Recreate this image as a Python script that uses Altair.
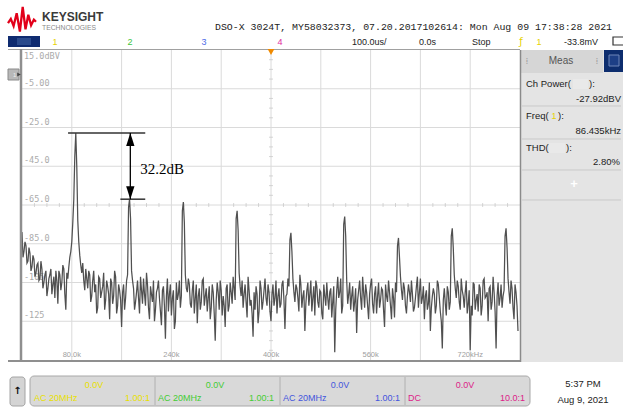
import altair as alt
import pandas as pd

# ---------------- chart data ----------------
BIN_KHZ = 1.6  # spacing of the displayed FFT points (kHz)

# levels (dBV) on the even points; each row starts at a harmonic of 86.435 kHz
trace_even_rows = [
    [-79, -89, -86, -94, -90, -97, -93, -100, -95, -103, -98, -105, -99, -108, -101, -111,
     -102, -99, -116, -101, -105, -98, -119, -103, -92, -84, -62],
    [-27.9, -73, -91, -100, -104, -98, -108, -101, -112, -99, -106, -118, -103, -110, -100,
     -114, -107, -124, -105, -112, -102, -117, -109, -128, -106, -113, -101],
    [-62, -99, -108, -115, -104, -121, -109, -103, -117, -106, -124, -111, -104, -119, -108,
     -113, -127, -107, -134, -103, -111, -122, -109, -125, -114, -104, -112],
    [-63.5, -101, -110, -106, -118, -104, -113, -126, -108, -115, -103, -112, -120, -107, -118,
     -110, -135, -105, -119, -109, -112, -128, -106, -117, -110, -102, -114],
    [-68, -100, -112, -118, -106, -123, -109, -114, -133, -119, -111, -120, -108, -115, -103,
     -117, -110, -125, -106, -113, -121, -108, -116, -104, -129, -111, -107],
    [-79.4, -103, -115, -108, -120, -106, -112, -130, -109, -117, -104, -113, -122, -107, -118,
     -110, -124, -112, -105, -119, -108, -115, -141, -109, -113, -103, -117],
    [-71, -104, -111, -119, -107, -115, -131, -109, -113, -102, -118, -110, -124, -106, -116,
     -111, -121, -105, -114, -109, -128, -112, -104, -117, -108, -123, -110],
    [-82, -102, -114, -108, -121, -106, -115, -111, -118, -107, -118, -103, -113, -124, -109,
     -116, -130, -112, -111, -117, -106, -120, -139, -108, -122, -110, -115],
    [-77, -101, -113, -107, -119, -109, -118, -104, -116, -140, -122, -106, -114, -120, -108,
     -117, -103, -112, -125, -107, -115, -110, -139, -105, -113, -118, -109],
    [-77, -103, -116, -108, -124, -110, -130],
]
# levels (dBV) on the odd points (between consecutive even points)
trace_odd_rows = [
    [-92, -84, -95, -87, -99, -91, -102, -96, -104, -94, -108, -101, -112, -103, -98, -106,
     -113, -104, -99, -109, -96, -111, -100, -97, -89, -74, -40],
    [-45, -84, -96, -95, -109, -103, -99, -115, -104, -110, -121, -102, -113, -107, -119,
     -104, -111, -103, -116, -99, -121, -106, -114, -110, -119, -104, -66],
    [-72, -104, -119, -110, -113, -102, -116, -111, -100, -118, -107, -115, -125, -110, -104,
     -120, -109, -117, -112, -120, -106, -113, -129, -105, -111, -118, -68],
    [-74, -108, -103, -116, -109, -121, -106, -112, -119, -104, -117, -108, -113, -124, -106,
     -121, -114, -110, -104, -122, -117, -108, -120, -105, -116, -108, -72],
    [-78, -107, -104, -111, -115, -102, -117, -121, -110, -107, -126, -104, -119, -109, -113,
     -106, -120, -111, -117, -104, -112, -118, -106, -114, -112, -103, -83],
    [-89, -110, -106, -113, -101, -118, -109, -116, -105, -111, -120, -107, -104, -115, -109,
     -121, -106, -117, -113, -110, -123, -107, -119, -102, -110, -121, -75],
    [-81, -116, -105, -112, -120, -108, -114, -104, -119, -110, -106, -117, -111, -103, -121,
     -107, -112, -118, -108, -119, -106, -115, -110, -124, -113, -105, -86],
    [-92, -109, -105, -117, -112, -110, -104, -120, -113, -102, -110, -116, -107, -112, -119,
     -105, -118, -108, -121, -104, -113, -125, -114, -116, -107, -119, -81],
    [-87, -108, -104, -115, -103, -112, -110, -121, -109, -117, -105, -119, -111, -106, -122,
     -104, -113, -110, -108, -119, -102, -120, -112, -117, -106, -112, -81],
    [-87, -110, -104, -118, -106, -117],
]
trace_db = []
for even_row, odd_row in zip(trace_even_rows, trace_odd_rows):
    for j, v in enumerate(even_row):
        trace_db.append(v)
        if j < len(odd_row):
            trace_db.append(odd_row[j])
freq_khz = [round(i * BIN_KHZ, 2) for i in range(len(trace_db))]

x_grid_khz = [80, 160, 240, 320, 400, 480, 560, 640, 720]
y_grid_db = [-5, -25, -45, -65, -85, -105, -125]
x_tick_khz = [80, 240, 400, 560, 720]
x_tick_text = ["80.0k", "240k", "400k", "560k", "720kHz"]
y_tick_db = [-5, -25, -45, -65, -85, -105, -125]
y_tick_text = ["-5.00", "-25.0", "-45.0", "-65.0", "-85.0", "-105", "-125"]
y_top_text = "15.0dBV"
minor_x_khz = [20, 40, 60, 100, 120, 140, 180, 200, 220, 260, 280, 300, 340, 360, 380,
               420, 440, 460, 500, 520, 540, 580, 600, 620, 660, 680, 700, 740, 760, 780]
minor_y_db = [10, 5, 0, -10, -15, -20, -30, -35, -40, -50, -55, -60, -70, -75, -80,
              -90, -95, -100, -110, -115, -120, -130, -135, -140]
CENTER_KHZ = 400
CENTER_DB = -65

annot_levels_db = [-27.9, -62.0]
annot_start_khz = [74, 158]
annot_end_khz = 198
annot_arrow_khz = 174
annot_text = "32.2dB"
annot_text_khz = 190
annot_text_db = -46.5

title_text = "DSO-X 3024T, MY58032373, 07.20.2017102614: Mon Aug 09 17:38:28 2021"
meas_power = "-27.92dBV"
meas_freq = "86.435kHz"
meas_thd = "2.80%"

# ---------------- scales ----------------
XS = alt.Scale(domain=[0, 800], range=[22, 520], nice=False, zero=False)
YS = alt.Scale(domain=[-145, 15], range=[360, 50], nice=False, zero=False)
ONE = alt.Data(values=[{}])


def txt(s, x, y, size=9.5, color="#222222", align="left", font="Liberation Sans",
        weight="normal", baseline="middle"):
    return alt.Chart(ONE).mark_text(
        text=s, align=align, baseline=baseline, fontSize=size, color=color,
        font=font, fontWeight=weight
    ).encode(x=alt.value(x), y=alt.value(y))


def rect(x1, y1, x2, y2, fill, stroke=None, sw=1, r=0):
    kw = dict(fill=fill, cornerRadius=r, opacity=1)
    if stroke:
        kw.update(stroke=stroke, strokeWidth=sw)
    else:
        kw.update(strokeWidth=0)
    return alt.Chart(ONE).mark_rect(**kw).encode(
        x=alt.value(x1), x2=alt.value(x2), y=alt.value(y1), y2=alt.value(y2))


def seg(x1, y1, x2, y2, color, w=1):
    return alt.Chart(ONE).mark_rule(color=color, strokeWidth=w).encode(
        x=alt.value(x1), x2=alt.value(x2), y=alt.value(y1), y2=alt.value(y2))


def sym(shape, x, y, size, color, filled=True, sw=1):
    return alt.Chart(ONE).mark_point(
        shape=shape, filled=filled, size=size, color=color, opacity=1, strokeWidth=sw
    ).encode(x=alt.value(x), y=alt.value(y))


layers = []

# right measurement panel background
layers.append(rect(520, 50, 623, 362, "#e4e4e4"))
layers.append(rect(520, 50, 603, 73, "#d6d6d6"))
layers.append(rect(604, 50, 623, 72, "#0d2d6e"))
layers.append(rect(609, 55, 619, 66, "#1d3f86", stroke="#6f86b8", sw=1))

# grid
gx = pd.DataFrame({"f": x_grid_khz})
gy = pd.DataFrame({"db": y_grid_db})
layers.append(alt.Chart(gx).mark_rule(color="#dadada", strokeWidth=1).encode(
    x=alt.X("f:Q", scale=XS, axis=None), y=alt.value(50), y2=alt.value(360)))
layers.append(alt.Chart(gy).mark_rule(color="#dadada", strokeWidth=1).encode(
    y=alt.Y("db:Q", scale=YS, axis=None), x=alt.value(22), x2=alt.value(520)))

# minor ticks on the centre lines
mx = pd.DataFrame({"f": minor_x_khz, "db": [CENTER_DB] * len(minor_x_khz)})
my = pd.DataFrame({"f": [CENTER_KHZ] * len(minor_y_db), "db": minor_y_db})
layers.append(alt.Chart(mx).mark_tick(orient="vertical", size=4, thickness=1, color="#c4c4c4").encode(
    x=alt.X("f:Q", scale=XS, axis=None), y=alt.Y("db:Q", scale=YS, axis=None)))
layers.append(alt.Chart(my).mark_tick(orient="horizontal", size=4, thickness=1, color="#c4c4c4").encode(
    x=alt.X("f:Q", scale=XS, axis=None), y=alt.Y("db:Q", scale=YS, axis=None)))

# axis labels inside the graticule
ly = pd.DataFrame({"db": y_tick_db, "t": y_tick_text})
layers.append(alt.Chart(ly).mark_text(align="left", baseline="bottom", dy=-1, fontSize=8.5,
                                      color="#ababab", font="DejaVu Sans Mono").encode(
    x=alt.value(24), y=alt.Y("db:Q", scale=YS, axis=None), text="t:N"))
layers.append(txt(y_top_text, 24, 52, size=8.5, color="#ababab", font="DejaVu Sans Mono",
                  baseline="top"))
lx = pd.DataFrame({"f": x_tick_khz, "t": x_tick_text})
layers.append(alt.Chart(lx).mark_text(align="center", baseline="middle", fontSize=7.5,
                                      color="#a0a0a0", font="Liberation Sans").encode(
    x=alt.X("f:Q", scale=XS, axis=None), y=alt.value(355), text="t:N"))

# the FFT trace
tr = pd.DataFrame({"f": freq_khz, "db": trace_db})
layers.append(alt.Chart(tr).mark_line(color="#505050", strokeWidth=1.25).encode(
    x=alt.X("f:Q", scale=XS, axis=None), y=alt.Y("db:Q", scale=YS, axis=None)))

# graticule frame
layers.append(seg(8, 49.5, 520, 49.5, "#a0a0a0", 1))
layers.append(seg(21, 49, 21, 361, "#8f8f8f", 2.5))
layers.append(seg(8, 361, 521, 361, "#8f8f8f", 2))
layers.append(seg(520.5, 50, 520.5, 362, "#8a8a8a", 1.5))

# channel ground marker and trigger position marker
layers.append(rect(8, 69, 19, 80, "#b8b8b8", stroke="#8a8a8a", sw=1))
layers.append(sym("triangle-right", 19, 74.5, 18, "#444444"))
layers.append(txt("1", 13, 74.5, size=6, color="#eeeeee"))
layers.append(sym("triangle-down", 271, 52, 45, "#f08a00"))

# annotation (32.2 dB)
an = pd.DataFrame({"db": annot_levels_db, "x1": annot_start_khz,
                   "x2": [annot_end_khz] * len(annot_levels_db)})
layers.append(alt.Chart(an).mark_rule(color="#333333", strokeWidth=1.5).encode(
    x=alt.X("x1:Q", scale=XS, axis=None), x2="x2:Q", y=alt.Y("db:Q", scale=YS, axis=None)))
ar = pd.DataFrame({"f": [annot_arrow_khz], "top": [annot_levels_db[0]], "bot": [annot_levels_db[1]]})
layers.append(alt.Chart(ar).mark_rule(color="black", strokeWidth=1.3).encode(
    x=alt.X("f:Q", scale=XS, axis=None), y=alt.Y("top:Q", scale=YS, axis=None), y2="bot:Q"))
layers.append(alt.Chart(ar).mark_point(shape="M0,0L0.32,1L-0.32,1Z", filled=True, size=676,
                                       color="black", opacity=1, strokeWidth=0).encode(
    x=alt.X("f:Q", scale=XS, axis=None), y=alt.Y("top:Q", scale=YS, axis=None)))
layers.append(alt.Chart(ar).mark_point(shape="M0,0L0.32,-1L-0.32,-1Z", filled=True, size=676,
                                       color="black", opacity=1, strokeWidth=0).encode(
    x=alt.X("f:Q", scale=XS, axis=None), y=alt.Y("bot:Q", scale=YS, axis=None)))
at = pd.DataFrame({"f": [annot_text_khz], "db": [annot_text_db], "t": [annot_text]})
layers.append(alt.Chart(at).mark_text(align="left", baseline="middle", fontSize=15,
                                      font="Liberation Serif", color="black").encode(
    x=alt.X("f:Q", scale=XS, axis=None), y=alt.Y("db:Q", scale=YS, axis=None), text="t:N"))

# header
layers.append(sym("M-1,0.15L-0.8,-0.15L-0.6,0.35L-0.38,-0.55L-0.15,0.75L0.05,-1L0.25,0.6"
                  "L0.45,-0.45L0.65,0.3L0.85,-0.1L1,0.05", 22, 21, 784, "#e2001a",
                  filled=False, sw=2.3))
layers.append(txt("KEYSIGHT", 42, 17, size=12, color="#3a3a3a", weight="bold"))
layers.append(txt("TECHNOLOGIES", 42, 28, size=6.8, color="#8a8a8a"))
layers.append(txt(title_text, 215, 27, size=9.9, color="#222222", font="Liberation Mono"))

# top status row
layers.append(rect(8, 36, 40, 47, "#0f2b70"))
layers.append(rect(17, 38, 31, 45, "#2a4a8c"))
layers.append(txt("1", 55, 42, size=9, color="#e6d200", align="center"))
layers.append(txt("2", 130, 42, size=9, color="#3cc43c", align="center"))
layers.append(txt("3", 204, 42, size=9, color="#4d6de8", align="center"))
layers.append(txt("4", 280, 42, size=9, color="#e02ba0", align="center"))
layers.append(txt("100.0us/", 352, 42, size=9))
layers.append(txt("0.0s", 419, 42, size=9))
layers.append(txt("Stop", 472, 42, size=9))
layers.append(txt("ƒ", 521, 42, size=10, color="#e6d200", align="center", font="DejaVu Sans"))
layers.append(txt("1", 539, 42, size=9, color="#e6d200", align="center"))
layers.append(txt("-33.8mV", 564, 42, size=9))
layers.append(rect(613, 37, 626, 45, "#ffffff", stroke="#333333", sw=1.2))

# measurement panel text
layers.append(txt("⁞", 527, 61, size=9, color="#a0a0a0", align="center", font="DejaVu Sans"))
layers.append(txt("⁞", 597, 61, size=9, color="#a0a0a0", align="center", font="DejaVu Sans"))
layers.append(txt("Meas", 561, 61, size=10, color="#555555", align="center"))
layers.append(txt("Ch Power(", 526, 84, size=9.5))
layers.append(rect(573, 79, 588, 89, "#e9e9e9"))
layers.append(txt("):", 589, 84, size=9.5))
layers.append(txt(meas_power, 621, 99, size=9.5, align="right"))
layers.append(seg(522, 106, 621, 106, "#c9c9c9", 1))
layers.append(txt("Freq(", 526, 116, size=9.5))
layers.append(txt("1", 554, 116, size=9, color="#e6d200", align="center"))
layers.append(txt("):", 558, 116, size=9.5))
layers.append(txt(meas_freq, 621, 131, size=9.5, align="right"))
layers.append(seg(522, 139, 621, 139, "#c9c9c9", 1))
layers.append(txt("THD(", 526, 148, size=9.5))
layers.append(rect(549, 143, 565, 153, "#e9e9e9"))
layers.append(txt("):", 566, 148, size=9.5))
layers.append(txt(meas_thd, 620, 162, size=9.5, align="right"))
layers.append(seg(522, 170, 621, 170, "#c9c9c9", 1))
layers.append(txt("+", 574, 184, size=13, color="#ffffff", align="center", weight="bold"))
layers.append(seg(522, 200, 621, 200, "#c9c9c9", 1))

# bottom channel bar
layers.append(rect(10, 377, 25, 406, "#d4d4d4", stroke="#a4a4a4", sw=1, r=3))
layers.append(txt("↑", 17.5, 391, size=10, color="#111111", align="center", font="DejaVu Sans",
                  weight="bold"))
layers.append(rect(30, 376, 530, 406, "#d9d9d9", stroke="#a8a8a8", sw=1, r=4))
for xs in [155, 280, 405]:
    layers.append(seg(xs, 377, xs, 405, "#b0b0b0", 1))
chan = [
    (94, 34, 150, "AC 20MHz", "1.00:1", "#e8e000"),
    (215, 158, 274, "AC 20MHz", "1.00:1", "#44cc33"),
    (340, 283, 400, "AC 20MHz", "1.00:1", "#4455dd"),
    (465, 408, 525, "DC", "10.0:1", "#dd2288"),
]
for cx, lx0, rx0, cpl, probe, col in chan:
    layers.append(txt("0.0V", cx, 385, size=9, color=col, align="center"))
    layers.append(txt(cpl, lx0, 398, size=9, color=col))
    layers.append(txt(probe, rx0, 398, size=9, color=col, align="right"))
layers.append(txt("5:37 PM", 583, 384, size=9.5, align="center"))
layers.append(txt("Aug 9, 2021", 583, 400, size=9.5, align="center"))

chart = alt.layer(*layers).properties(
    width=623, height=412, padding=0,
    autosize=alt.AutoSizeParams(type="none"), background="white"
).configure_view(stroke=None)

chart.save("out.html", embed_options={"renderer": "svg", "actions": False})
